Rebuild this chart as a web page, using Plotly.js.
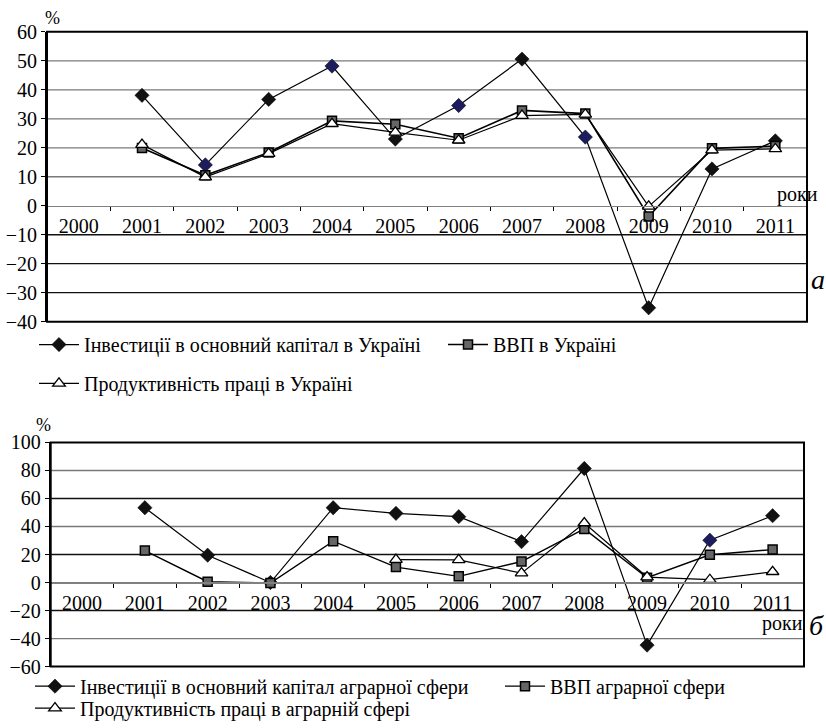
<!DOCTYPE html>
<html>
<head>
<meta charset="utf-8">
<script src="https://cdn.plot.ly/plotly-3.0.1.min.js"></script>
<style>html,body{margin:0;padding:0;background:#fff}#chart{width:826px;height:728px}</style>
</head>
<body>
<div id="chart"></div>
<script>
// ---- data ----
const years = ['2000','2001','2002','2003','2004','2005','2006','2007','2008','2009','2010','2011'];

// (a) Ukraine
const investUA = [null, 38.1, 14.1, 36.7, 48.2, 23.0, 34.6, 50.6, 23.7, -35.2, 12.7, 22.4];
const gdpUA    = [null, 19.9, 10.5, 18.4, 29.3, 28.1, 23.3, 32.9, 31.8, -3.7, 19.8, 20.6];
const prodUA   = [null, 21.1, 9.9, 18.0, 28.3, 25.3, 22.6, 31.1, 31.5, -0.2, 19.2, 19.6];

// (б) agrarian sphere
const investAgr = [null, 53.4, 19.5, 0.0, 53.4, 49.4, 47.0, 29.2, 81.4, -44.7, 30.2, 47.7];
const gdpAgr    = [null, 22.8, 0.6, -0.4, 29.5, 11.0, 4.4, 15.0, 38.3, 3.4, 19.8, 23.5];
const prodAgr   = [null, null, null, null, null, 16.4, 16.2, 6.7, 42.5, 3.9, 2.0, 7.7];

const namesTop = ['Інвестиції в основний капітал в Україні', 'ВВП в Україні', 'Продуктивність праці в Україні'];
const namesBot = ['Інвестиції в основний капітал аграрної сфери', 'ВВП аграрної сфери', 'Продуктивність праці в аграрній сфері'];

// gridlines: grey ones and ones printed darker (black) in the original
const greyGridTop = [50, 40, 30, 20, 10];
const darkGridTop = [-10, -20, -30];
const greyGridBot = [80, 40, -40];
const darkGridBot = [60, 20, -20];

// marker colour styles (some diamonds are printed dark navy)
const N = '#1c1c5e', K = '#111';
const investUAColors  = [K, K, N, K, N, K, N, K, N, K, K, K];
const investAgrColors = [K, K, K, K, K, K, K, K, K, K, N, K];

const FONT = 'Liberation Serif, Times New Roman, serif';
const FS = 20;
const lineStyle = {color: '#000', width: 1.2};

function diamond(colors){ return {symbol: 'diamond', size: 11, color: colors, line: {color: '#000', width: 0.5}}; }
const square = {symbol: 'square', size: 9, color: '#666', line: {color: '#000', width: 1.5}};
const tri = {symbol: 'triangle-up', size: 11, color: '#fff', line: {color: '#000', width: 1.3}};

const traces = [
  {x: years, y: investUA, name: namesTop[0], mode: 'lines+markers', line: lineStyle, marker: diamond(investUAColors), xaxis: 'x', yaxis: 'y', legend: 'legend'},
  {x: years, y: gdpUA, name: namesTop[1], mode: 'lines+markers', line: {color: '#000', width: 1.6}, marker: square, xaxis: 'x', yaxis: 'y', legend: 'legend2'},
  {x: years, y: prodUA, name: namesTop[2], mode: 'lines+markers', line: lineStyle, marker: tri, xaxis: 'x', yaxis: 'y', legend: 'legend3'},
  {x: years, y: investAgr, name: namesBot[0], mode: 'lines+markers', line: lineStyle, marker: diamond(investAgrColors), xaxis: 'x2', yaxis: 'y2', legend: 'legend4'},
  {x: years, y: gdpAgr, name: namesBot[1], mode: 'lines+markers', line: {color: '#000', width: 1.4}, marker: square, xaxis: 'x2', yaxis: 'y2', legend: 'legend5'},
  {x: years, y: prodAgr, name: namesBot[2], mode: 'lines+markers', line: lineStyle, marker: tri, xaxis: 'x2', yaxis: 'y2', legend: 'legend6'}
];

const W = 826, H = 728;
const fy = px => 1 - px / H;
const fx = px => px / W;

function xAxis(domain, pos){
  return {
    type: 'category', domain: domain, anchor: 'free', position: pos,
    showline: true, linecolor: '#808080', linewidth: 1.5,
    ticks: 'outside', ticklen: 4, tickcolor: '#000', tickson: 'boundaries',
    ticklabelstandoff: 2,
    showgrid: false, zeroline: false, fixedrange: true,
    tickfont: {family: FONT, size: FS, color: '#000'},
    range: [-0.5, 11.5]
  };
}
function yAxis(domain, range, dtick, xref){
  return {
    domain: domain, range: range, dtick: dtick, anchor: xref,
    showline: true, linecolor: '#000', linewidth: 2,
    ticks: 'outside', ticklen: 4, tickcolor: '#000',
    showgrid: false, zeroline: false, fixedrange: true,
    tickfont: {family: FONT, size: FS, color: '#000'}
  };
}

const legendBase = {orientation: 'h', xanchor: 'left', yanchor: 'middle', bgcolor: 'rgba(0,0,0,0)',
  font: {family: FONT, size: FS, color: '#000'}, itemclick: false, tracegroupgap: 0, itemwidth: 40, visible: true};

function gridShapes(vals, xref, yref, color){
  return vals.map(v => ({type: 'line', xref: xref + ' domain', yref: yref, x0: 0, x1: 1, y0: v, y1: v,
    layer: 'below', line: {color: color, width: 1.3}}));
}

const layout = {
  width: W, height: H,
  showlegend: true,
  margin: {l: 0, r: 0, t: 0, b: 0},
  paper_bgcolor: '#fff', plot_bgcolor: '#fff',
  font: {family: FONT, color: '#000'},
  xaxis: xAxis([fx(47), fx(807)], fy(206.6)),
  yaxis: yAxis([fy(323), fy(32)], [-40, 60], 10, 'x'),
  xaxis2: xAxis([fx(50.7), fx(804)], fy(584.8)),
  yaxis2: yAxis([fy(669.3), fy(444.3)], [-60, 100], 20, 'x2'),
  legend:  Object.assign({}, legendBase, {x: fx(34), y: fy(346)}),
  legend2: Object.assign({}, legendBase, {x: fx(443), y: fy(346)}),
  legend3: Object.assign({}, legendBase, {x: fx(34), y: fy(385)}),
  legend4: Object.assign({}, legendBase, {x: fx(30), y: fy(689)}),
  legend5: Object.assign({}, legendBase, {x: fx(500), y: fy(689)}),
  legend6: Object.assign({}, legendBase, {x: fx(30), y: fy(711)}),
  shapes: [].concat(
    gridShapes(greyGridTop, 'x', 'y', '#7a7a7a'),
    gridShapes(darkGridTop, 'x', 'y', '#111'),
    gridShapes(greyGridBot, 'x2', 'y2', '#7a7a7a'),
    gridShapes(darkGridBot, 'x2', 'y2', '#111'),
    [
      {type: 'rect', xref: 'x domain', yref: 'y domain', x0: 0, x1: 1, y0: 0, y1: 1, line: {color: '#000', width: 2}},
      {type: 'rect', xref: 'x2 domain', yref: 'y2 domain', x0: 0, x1: 1, y0: 0, y1: 1, line: {color: '#000', width: 2}}
    ]
  ),
  annotations: [
    {text: '%', xref: 'paper', yref: 'paper', x: fx(52), y: fy(18), xanchor: 'center', yanchor: 'middle', showarrow: false, font: {family: FONT, size: 18}},
    {text: '%', xref: 'paper', yref: 'paper', x: fx(43), y: fy(427), xanchor: 'center', yanchor: 'middle', showarrow: false, font: {family: FONT, size: 18}},
    {text: 'роки', xref: 'paper', yref: 'paper', x: fx(797), y: fy(195), xanchor: 'center', yanchor: 'middle', showarrow: false, font: {family: FONT, size: FS}},
    {text: 'роки', xref: 'paper', yref: 'paper', x: fx(782), y: fy(626), xanchor: 'center', yanchor: 'middle', showarrow: false, font: {family: FONT, size: FS}},
    {text: '<i>а</i>', xref: 'paper', yref: 'paper', x: fx(809), y: fy(281), xanchor: 'left', yanchor: 'middle', showarrow: false, font: {family: FONT, size: 28}},
    {text: '<i>б</i>', xref: 'paper', yref: 'paper', x: fx(807), y: fy(628), xanchor: 'left', yanchor: 'middle', showarrow: false, font: {family: FONT, size: 28}}
  ]
};

Plotly.newPlot('chart', traces, layout, {staticPlot: true, displayModeBar: false});
</script>
</body>
</html>
